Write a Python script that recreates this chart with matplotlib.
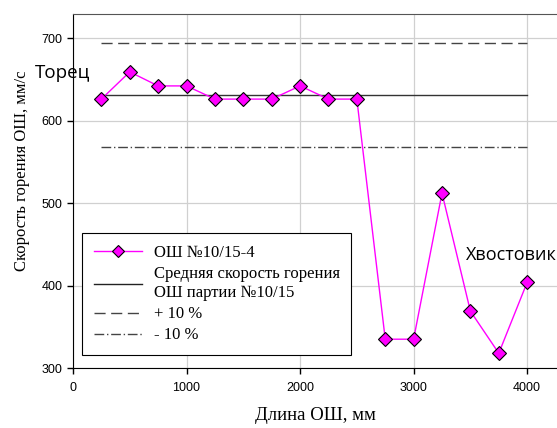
import matplotlib
matplotlib.use("Agg")
import matplotlib.pyplot as plt
from matplotlib.lines import Line2D

lengths = [250, 500, 750, 1000, 1250, 1500, 1750, 2000, 2250, 2500,
           2750, 3000, 3250, 3500, 3750, 4000]
speeds = [626, 659, 642, 642, 626, 626, 626, 642, 626, 626,
          335, 335, 512, 369, 318, 404]
mean_speed = 631
plus10 = 694
minus10 = 568
line_x = [250, 4000]

x_ticks = [0, 1000, 2000, 3000, 4000]
y_ticks = [300, 400, 500, 600, 700]

fig = plt.figure(figsize=(5.57, 4.28), dpi=100)
ax = fig.add_axes([0.131, 0.140, 0.897, 0.827])

serif = "Liberation Serif"
sans = "Liberation Sans"

ax.grid(True, color="#d0d0d0", linewidth=0.9)
ax.set_axisbelow(True)

ax.plot(line_x, [plus10]*2, color="#444444", lw=1.0, dashes=(8, 4), label="+ 10 %")
ax.plot(line_x, [minus10]*2, color="#444444", lw=1.0, dashes=(7, 2, 1, 2), label="- 10 %")
ax.plot(line_x, [mean_speed]*2, color="#333333", lw=1.0,
        label="Средняя скорость горения\nОШ партии №10/15")
ax.plot(lengths, speeds, color="#ff00ff", lw=1.0, marker="D", markersize=7,
        markerfacecolor="#ff00ff", markeredgecolor="black", markeredgewidth=0.8,
        label="ОШ №10/15-4", zorder=5)

ax.set_xlim(0, 4400)
ax.set_ylim(300, 729)
ax.set_xticks(x_ticks)
ax.set_yticks(y_ticks)
for lbl in ax.get_xticklabels() + ax.get_yticklabels():
    lbl.set_fontfamily(sans)
    lbl.set_fontsize(9)
ax.tick_params(direction="out", length=4, width=1, color="black")
ax.tick_params(axis="x", pad=6)

ax.spines["right"].set_visible(False)
ax.spines["top"].set_color("#555555")
ax.spines["left"].set_color("black")
ax.spines["bottom"].set_color("black")

ax.set_xlabel("Длина ОШ, мм", fontfamily=serif, fontsize=13.5)
ax.set_ylabel("Скорость горения ОШ, мм/с", fontfamily=serif, fontsize=12)
ax.xaxis.set_label_coords((316 - 73) / 500.0, (368 - 415) / 354.0)
ax.xaxis.label.set_va("center")
ax.yaxis.set_label_coords((22 - 73) / 500.0, (368 - 171) / 354.0)
ax.yaxis.label.set_va("center")

fig.text(35 / 557, 1 - 73 / 428, "Торец", fontfamily="Open Sans", fontsize=13.5,
         ha="left", va="center")
fig.text(466 / 557, 1 - 255 / 428, "Хвостовик", fontfamily="Open Sans", fontsize=13,
         ha="left", va="center")

handles = [
    Line2D([], [], color="#ff00ff", lw=1.0, marker="D", markersize=6,
           markerfacecolor="#ff00ff", markeredgecolor="black", markeredgewidth=0.8),
    Line2D([], [], color="#222222", lw=1.0),
    Line2D([], [], color="#444444", lw=1.0, dashes=(8, 4)),
    Line2D([], [], color="#444444", lw=1.0, dashes=(7, 2, 1, 2)),
]
labels = ["ОШ №10/15-4", "Средняя скорость горения\nОШ партии №10/15", "+ 10 %", "- 10 %"]
leg = ax.legend(handles, labels, loc="lower left",
                bbox_to_anchor=((82 - 73) / 500.0, (368 - 355) / 354.0),
                borderaxespad=0,
                prop={"family": serif, "size": 12}, frameon=True, fancybox=False,
                edgecolor="black", framealpha=1, borderpad=0.7, labelspacing=0.3,
                handlelength=2.9, handletextpad=0.7)
leg.get_frame().set_linewidth(0.8)
for t in leg.get_texts():
    t.set_linespacing(1.3)

fig.savefig("out.png", dpi=100)
